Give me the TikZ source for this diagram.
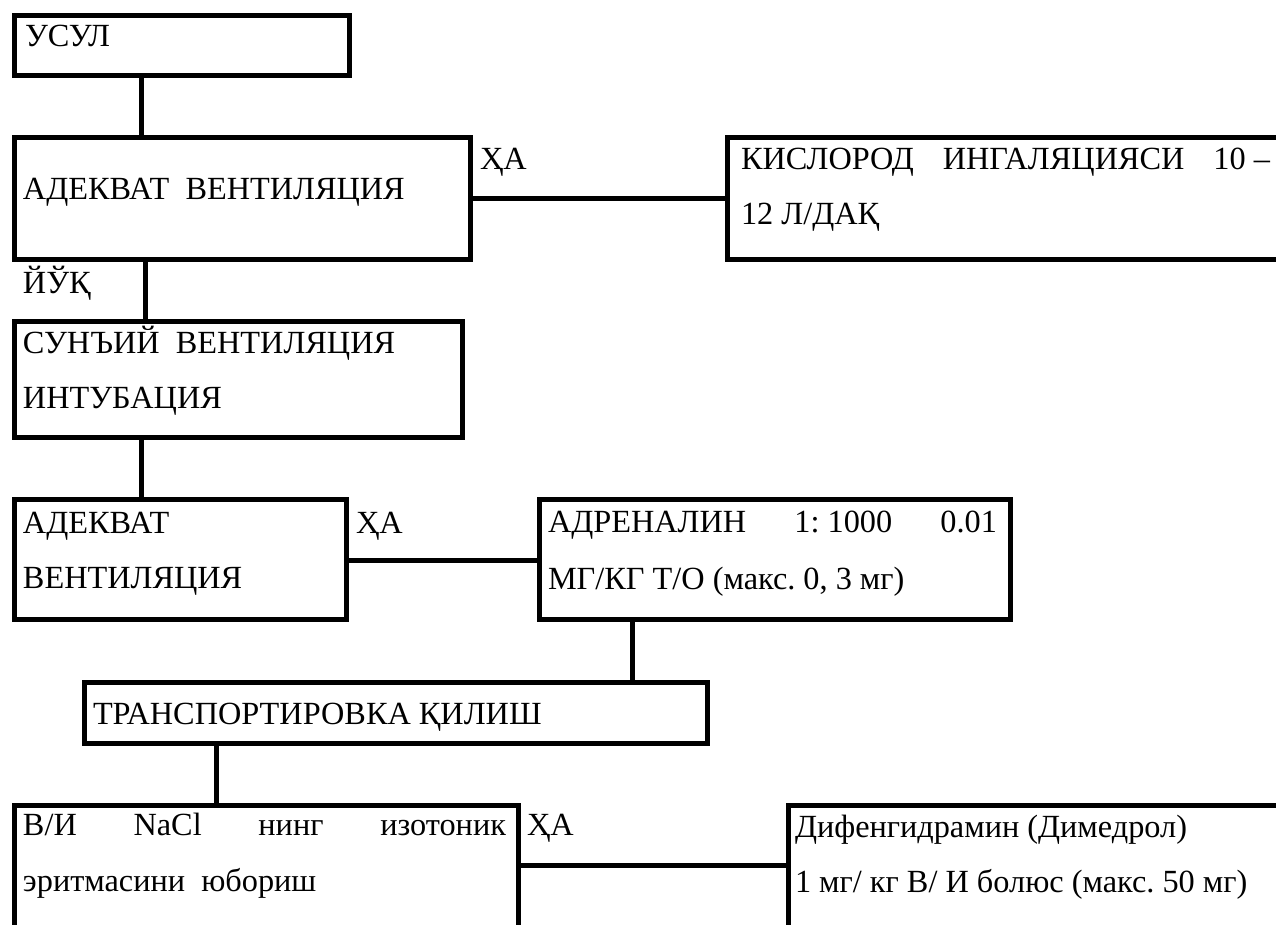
\documentclass[tikz,border=0pt]{standalone}
\usepackage{fontspec}
\setmainfont{Liberation Serif}
\frenchspacing
\newcommand\dfont{\fontsize{32.3}{38}\selectfont}
\tikzset{
  box/.style={draw, line width=5pt, rectangle, inner sep=0pt, outer sep=0pt, anchor=north west},
  link/.style={line width=5pt},
  lbl/.style={anchor=base west, inner sep=0pt, outer sep=0pt, font=\dfont}
}
\begin{document}
\begin{tikzpicture}[x=1pt,y=-1pt]
\useasboundingbox (0,0) rectangle (1276,925);
\clip (0,0) rectangle (1276,925);
% boxes
\node[box, minimum width=335pt, minimum height=60pt] (usul) at (14.7,15.5) {};
\node[box, minimum width=455.3pt, minimum height=121.8pt] (adv1) at (14.7,137.7) {};
\node[box, minimum width=572.5pt, minimum height=122pt] (kis) at (727.5,137.7) {};
\node[box, minimum width=447.8pt, minimum height=116.5pt] (sun) at (14.7,321) {};
\node[box, minimum width=331.6pt, minimum height=120.5pt] (adv2) at (14.7,499.2) {};
\node[box, minimum width=471pt, minimum height=120.5pt] (adr) at (539,499.2) {};
\node[box, minimum width=623pt, minimum height=61pt] (trans) at (84,682) {};
\node[box, minimum width=503.3pt, minimum height=200pt] (vi) at (14.7,805) {};
\node[box, minimum width=520pt, minimum height=200pt] (dif) at (788,805) {};
% connectors
\draw[link] ([xshift=126.3pt]usul.south west) -- ([xshift=126.3pt]usul.south west |- adv1.north);
\draw[link] ([yshift=-60.8pt]adv1.north east) coordinate (h1) -- (h1 -| kis.west);
\draw[link] ([xshift=130.8pt]adv1.south west) -- ([xshift=130.8pt]adv1.south west |- sun.north);
\draw[link] ([xshift=126.3pt]sun.south west) -- ([xshift=126.3pt]sun.south west |- adv2.north);
\draw[link] ([yshift=-60.8pt]adv2.north east) coordinate (h2) -- (h2 -| adr.west);
\draw[link] ([xshift=93.5pt]adr.south west) -- ([xshift=93.5pt]adr.south west |- trans.north);
\draw[link] ([xshift=132.5pt]trans.south west) -- ([xshift=132.5pt]trans.south west |- vi.north);
\draw[link] ([yshift=-60pt]vi.north east) coordinate (h3) -- (h3 -| dif.west);
% texts
\node[lbl] (t1) at (25,46.7) {УСУЛ};
\node[lbl] (t2) at (23,200) {АДЕКВАТ\ \ ВЕНТИЛЯЦИЯ};
\node[lbl] (ha1) at (480,170) {ҲА};
\node[lbl] (t3a) at (741,170) {\hbox to 529pt{КИСЛОРОД\hfill ИНГАЛЯЦИЯСИ\hfill 10 –}};
\node[lbl] (t3b) at (741,225) {12 Л/ДАҚ};
\node[lbl] (yuk) at (23,293) {ЙЎҚ};
\node[lbl] (t4a) at (23,353) {СУНЪИЙ\ \ ВЕНТИЛЯЦИЯ};
\node[lbl] (t4b) at (23,408) {ИНТУБАЦИЯ};
\node[lbl] (t5a) at (23,533) {АДЕКВАТ};
\node[lbl] (t5b) at (23,588) {ВЕНТИЛЯЦИЯ};
\node[lbl] (ha2) at (356,533) {ҲА};
\node[lbl] (t6a) at (548,532) {\hbox to 449pt{АДРЕНАЛИН\hfill 1: 1000\hfill 0.01}};
\node[lbl] (t6b) at (548,589) {МГ/КГ Т/О (макс. 0, 3 мг)};
\node[lbl] (t7) at (93,724) {ТРАНСПОРТИРОВКА ҚИЛИШ};
\node[lbl] (t8a) at (23,835) {\hbox to 483pt{В/И\hfill NaCl\hfill нинг\hfill изотоник}};
\node[lbl] (t8b) at (23,891) {эритмасини\ \ юбориш};
\node[lbl] (ha3) at (527,835) {ҲА};
\node[lbl] (t9a) at (795,837) {Дифенгидрамин (Димедрол)};
\node[lbl] (t9b) at (795,892) {1 мг/ кг В/ И болюс (макс. 50 мг)};
\end{tikzpicture}
\end{document}
